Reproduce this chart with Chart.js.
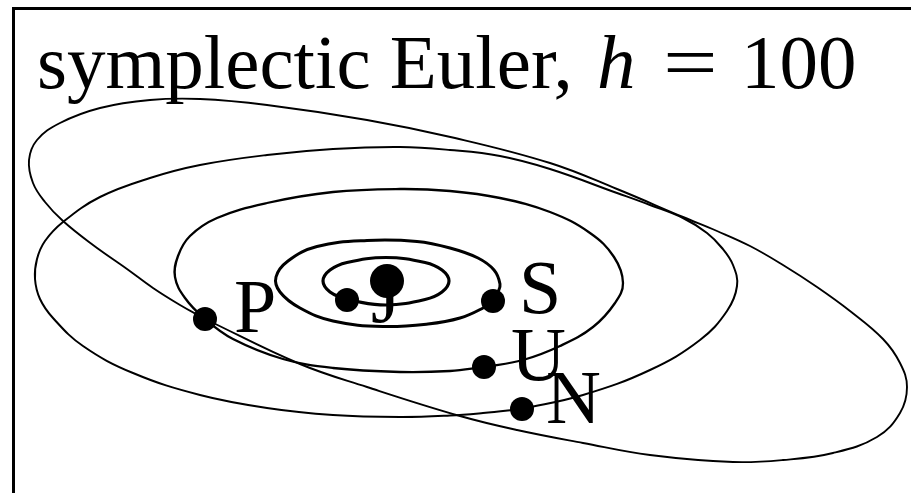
<!DOCTYPE html>
<html>
<head>
<meta charset="utf-8">
<script src="https://cdn.jsdelivr.net/npm/chart.js@4.4.1/dist/chart.umd.min.js"></script>
<style>
  html, body { margin: 0; padding: 0; background: #fff; }
  #wrap { width: 911px; height: 493px; }
</style>
</head>
<body>
<div id="wrap"><canvas id="orbits"></canvas></div>
<script>
// Orbit traces in plot units, each one starting and ending at the planet's final position
const jupiterOrbit = [
    [-3.9, -1.9], [-5.6, -1.1], [-6.3, 0.0], [-5.6, 1.1], [-3.9, 1.85], [0.0, 2.35],
    [3.9, 1.85], [5.6, 1.1], [6.3, 0.0], [5.6, -1.1], [3.9, -1.85], [0.0, -2.4],
    [-3.9, -1.9]
];
const saturnOrbit = [
    [10.7, -2.0], [11.2, -1.1], [11.4, -0.3], [10.8, 1.1], [9.2, 2.3], [6.4, 3.3],
    [3.1, 3.95], [-1.9, 4.05], [-6.9, 3.45], [-9.8, 2.0], [-11.0, 0.4], [-10.6, -1.1],
    [-8.6, -2.7], [-5.3, -4.0], [-0.3, -4.55], [4.2, -4.3], [7.4, -3.7], [9.7, -2.7],
    [10.7, -2.0]
];
const uranusOrbit = [
    [9.8, -8.6], [13.7, -7.9], [17.4, -6.5], [20.7, -4.6], [22.9, -2.2], [23.7, -0.2],
    [22.8, 2.4], [20.4, 4.8], [16.4, 6.9], [11.4, 8.3], [6.4, 9.0], [1.4, 9.2],
    [-5.3, 8.9], [-11.9, 7.8], [-16.9, 6.3], [-19.6, 4.5], [-20.8, 2.5], [-21.1, 0.4],
    [-20.1, -1.7], [-18.1, -3.8], [-15.3, -5.8], [-10.3, -7.8], [-5.3, -8.7],
    [1.4, -9.1], [6.4, -9.0], [9.8, -8.6]
];
const neptuneOrbit = [
    [13.6, -12.8], [19.7, -11.4], [26.4, -8.9], [31.4, -5.9], [34.1, -3.0], [35.1, -0.5],
    [34.7, 1.6], [33.6, 3.3], [32.1, 4.8], [29.7, 6.3], [26.4, 7.6], [23.1, 8.8],
    [16.4, 11.2], [11.4, 12.5], [6.4, 13.1], [1.4, 13.4], [-5.3, 13.2], [-11.9, 12.6],
    [-18.6, 11.6], [-23.6, 10.3], [-28.6, 8.4], [-32.3, 5.9], [-34.1, 4.0], [-34.9, 2.2],
    [-35.1, 0.2], [-34.6, -1.8], [-33.3, -3.7], [-30.3, -6.5], [-25.3, -9.2], [-18.6, -11.4],
    [-11.9, -12.7], [-5.3, -13.4], [1.4, -13.6], [6.4, -13.45], [9.7, -13.2], [13.6, -12.8]
];
const plutoOrbit = [
    [-18.1, -3.8], [-8.6, -8.3], [-1.9, -10.6], [7.4, -13.5], [13.1, -14.9], [19.7, -16.2],
    [26.4, -17.4], [34.7, -18.1], [39.7, -17.9], [44.7, -17.2], [49.1, -15.6], [51.4, -13.2],
    [52.1, -10.6], [51.4, -8.2], [49.7, -5.8], [46.4, -3.0], [43.1, -0.6], [39.7, 1.6],
    [36.4, 3.5], [33.1, 5.0], [29.7, 6.4], [23.1, 9.2], [16.4, 11.8], [6.9, 14.3],
    [-1.9, 16.1], [-11.9, 17.6], [-18.6, 18.2], [-23.6, 18.1], [-28.6, 17.3], [-32.6, 15.8],
    [-34.9, 14.1], [-35.7, 12.1], [-35.3, 9.8], [-34.1, 7.9], [-32.3, 6.0], [-29.3, 3.6],
    [-25.9, 1.2], [-23.3, -0.7], [-20.6, -2.4], [-18.1, -3.8]
];

// Final positions of the planets and the sun
const planetNames = ['J', 'S', 'U', 'N', 'P'];
const planetPositions = [[-3.9, -1.9], [10.7, -2.0], [9.8, -8.6], [13.6, -12.8], [-18.1, -3.8]];
const sunPosition = [[0.1, 0.0]];

// Where each letter sits relative to its dot (px: left edge, baseline)
const labelOffsets = [[24, 22], [26, 12], [27, 13], [24, 14], [29, 13]];

const titleParts = ['symplectic Euler,', 'h', '=', '100'];
// left edge of each title part, px
const titleX = [37, 597, 663, 741];

const orbits = [jupiterOrbit, saturnOrbit, uranusOrbit, neptuneOrbit, plutoOrbit];
const orbitWidths = [3.2, 3, 2.3, 2, 1.9];

function toPoints(list) {

    return list.map(p => ({ x: p[0], y: p[1] }));
}

const SERIF = '"Liberation Serif", "Times New Roman", serif';

// Frame on the left and top edges of the plot area
const framePlugin = {
    id: 'frame',
    beforeDatasetsDraw(chart) {

        const { ctx, chartArea } = chart;
        ctx.save();
        ctx.strokeStyle = '#000';
        ctx.lineWidth = 3;
        ctx.beginPath();
        ctx.moveTo(chartArea.left, chart.height + 5);
        ctx.lineTo(chartArea.left, chartArea.top);
        ctx.lineTo(chart.width + 5, chartArea.top);
        ctx.stroke();
        ctx.restore();
    }
};

// Planet letters, drawn before the dots so the sun covers the top of the J
const labelPlugin = {
    id: 'planetLabels',
    beforeDatasetsDraw(chart) {

        const { ctx, scales } = chart;
        ctx.save();
        ctx.fillStyle = '#000';
        ctx.font = '76px ' + SERIF;
        ctx.textBaseline = 'alphabetic';
        planetNames.forEach((name, i) => {

            const px = scales.x.getPixelForValue(planetPositions[i][0]);
            const py = scales.y.getPixelForValue(planetPositions[i][1]);
            ctx.fillText(name, px + labelOffsets[i][0], py + labelOffsets[i][1]);
        });
        ctx.restore();
    }
};

// Title with the step size in math italic
const titlePlugin = {
    id: 'mixedTitle',
    afterDraw(chart) {

        const ctx = chart.ctx;
        const fonts = ['77px ' + SERIF, 'italic 77px ' + SERIF, '77px ' + SERIF, '77px ' + SERIF];
        ctx.save();
        ctx.fillStyle = '#000';
        ctx.textBaseline = 'alphabetic';
        titleParts.forEach((part, i) => {

            ctx.font = fonts[i];
            if (part === '=') {
                // the math equals sign is wider than the text one
                ctx.save();
                ctx.translate(titleX[i], 88);
                ctx.scale(1.26, 1);
                ctx.fillText(part, 0, 0);
                ctx.restore();
            }
            else {
                ctx.fillText(part, titleX[i], 88);
            }
        });
        ctx.restore();
    }
};

function initializeChart() {

    const ctx = document.getElementById('orbits').getContext('2d');

    const datasets = [
        {
            label: 'Sun',
            data: toPoints(sunPosition),
            pointRadius: 17,
            pointBackgroundColor: '#000',
            pointBorderWidth: 0,
            showLine: false
        },
        {
            label: 'Planets',
            data: toPoints(planetPositions),
            pointRadius: 12,
            pointBackgroundColor: '#000',
            pointBorderWidth: 0,
            showLine: false
        }
    ];

    orbits.forEach((orbit, i) => {

        datasets.push({
            label: 'orbit ' + planetNames[i],
            data: toPoints(orbit),
            showLine: true,
            pointRadius: 0,
            borderColor: '#000',
            borderWidth: orbitWidths[i],
            tension: 0.4,
            fill: false
        });
    });

    new Chart(ctx, {
        type: 'scatter',
        data: { datasets: datasets },
        options: {
            responsive: true,
            maintainAspectRatio: false,
            animation: false,
            layout: {
                autoPadding: false,
                padding: { left: 13.5, top: 8.5, right: 0, bottom: 0 }
            },
            plugins: {
                legend: { display: false },
                tooltip: { enabled: false }
            },
            scales: {
                x: { type: 'linear', min: -37.25, max: 52.5, display: false },
                y: { type: 'linear', min: -21.2, max: 27.25, display: false }
            }
        },
        plugins: [framePlugin, labelPlugin, titlePlugin]
    });
}

window.onload = function () {

    initializeChart();
};
</script>
</body>
</html>
